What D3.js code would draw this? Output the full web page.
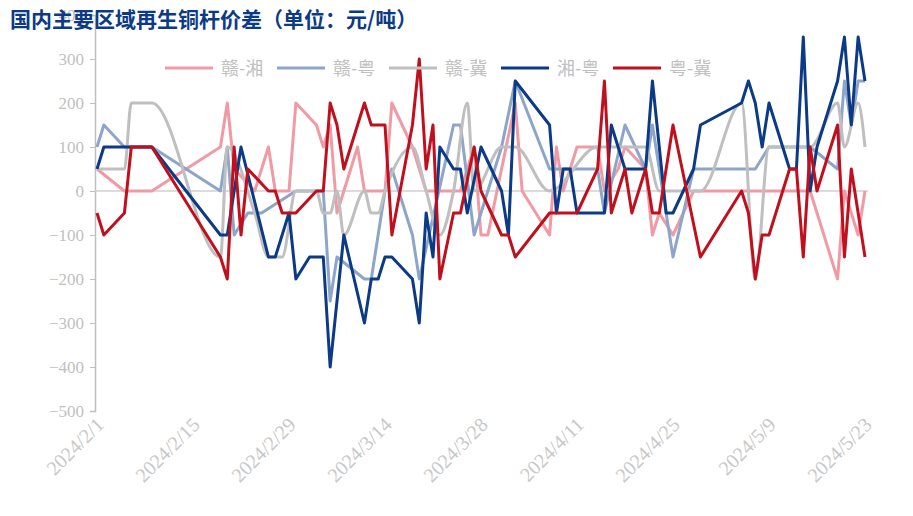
<!DOCTYPE html>
<html>
<head>
<meta charset="utf-8">
<script src="https://cdn.jsdelivr.net/npm/d3@7"></script>
<style>body{margin:0;background:#fff;}</style>
</head>
<body>
<div id="plot"></div>
<script>
// Data, dates are 2024 M/D
const ganXiangDates = ["2/1","2/5","2/9","2/19","2/20","2/21","2/24","2/26","2/27","2/29","3/1","3/4","3/5","3/6","3/7","3/10","3/11","3/14","3/15","3/18","3/20","3/25","3/27","3/28","3/29","4/2","4/3","4/7","4/8","4/9","4/11","4/14","4/15","4/17","4/18","4/21","4/22","4/23","4/25","4/28","5/15","5/19","5/20","5/22","5/23"];
const ganXiangValues = [50,0,0,100,200,50,0,100,0,0,200,150,100,150,-50,100,0,0,200,100,0,0,100,-100,-100,200,0,-100,100,0,100,100,0,50,100,50,-100,-50,-100,0,0,-200,0,-100,0];

const ganYueDates = ["2/1","2/2","2/5","2/9","2/19","2/20","2/21","2/23","2/25","3/1","3/5","3/6","3/7","3/11","3/12","3/14","3/15","3/18","3/19","3/24","3/25","3/27","3/31","4/2","4/7","4/14","4/15","4/18","4/21","4/22","4/25","4/28","5/7","5/9","5/12","5/15","5/19","5/20","5/21","5/22","5/23"];
const ganYueValues = [100,150,100,100,0,100,-100,-50,-50,0,0,-250,-150,-200,-200,0,50,-100,-200,150,150,-100,100,250,50,50,-50,150,50,150,-150,50,50,100,100,100,50,250,150,250,250];

const ganJiDates = ["2/1","2/5","2/6","2/9","2/19","2/20","2/24","2/26","2/28","3/1","3/4","3/5","3/6","3/7","3/8","3/11","3/12","3/13","3/14","3/18","3/20","3/22","3/24","3/26","3/27","3/31","4/2","4/7","4/14","4/16","4/21","4/23","4/29","5/5","5/7","5/9","5/15","5/19","5/20","5/22","5/23"];
const ganJiValues = [50,50,200,200,-150,100,-50,-150,-150,0,0,-50,-50,0,-100,0,-50,-50,0,100,0,-100,0,200,0,100,100,0,100,100,100,0,0,200,-200,100,100,200,100,200,100];

const xiangYueDates = ["2/1","2/2","2/9","2/19","2/20","2/22","2/26","2/27","2/29","3/1","3/3","3/5","3/6","3/8","3/11","3/12","3/13","3/14","3/15","3/18","3/19","3/20","3/21","3/22","3/24","3/25","3/26","3/28","3/31","4/1","4/2","4/7","4/8","4/9","4/10","4/11","4/15","4/16","4/18","4/21","4/22","4/24","4/25","4/28","4/29","5/5","5/6","5/7","5/8","5/9","5/12","5/13","5/14","5/15","5/16","5/19","5/20","5/21","5/22","5/23"];
const xiangYueValues = [50,100,100,-100,-100,100,-150,-150,-50,-200,-150,-150,-400,-100,-300,-200,-200,-150,-150,-200,-300,-50,-150,100,50,50,-50,100,0,-100,250,150,-50,50,50,-50,-50,150,50,50,250,-50,-50,50,150,200,250,200,100,200,50,50,350,0,100,250,350,150,350,250];

const yueJiDates = ["2/1","2/2","2/5","2/6","2/9","2/19","2/20","2/21","2/22","2/23","2/26","2/27","2/28","3/1","3/4","3/5","3/6","3/7","3/8","3/11","3/12","3/14","3/15","3/18","3/19","3/20","3/21","3/22","3/24","3/25","3/27","3/28","3/31","4/1","4/2","4/7","4/11","4/14","4/15","4/16","4/18","4/19","4/21","4/22","4/23","4/25","4/29","5/5","5/6","5/7","5/8","5/9","5/12","5/13","5/14","5/15","5/16","5/19","5/20","5/21","5/23"];
const yueJiValues = [-50,-100,-50,100,100,-150,-200,100,-100,50,0,0,-50,-50,0,0,200,150,50,200,150,150,-100,150,300,50,150,-200,-50,-50,100,0,-100,-100,-150,-50,-50,50,250,-50,50,-50,50,-50,-50,150,-150,0,-50,-200,-100,-100,50,50,-150,100,0,150,-150,50,-150];

const seriesNames = ["赣-湘", "赣-粤", "赣-冀", "湘-粤", "粤-冀"];
const seriesColors = ["#ef9aa5", "#8da5c9", "#bfbfbf", "#0b3a86", "#c0101e"];
const yTicks = [-500, -400, -300, -200, -100, 0, 100, 200, 300, 400];
const xTickLabels = ["2024/2/1","2024/2/15","2024/2/29","2024/3/14","2024/3/28","2024/4/11","2024/4/25","2024/5/9","2024/5/23"];

const width = 913, height = 516;
const parse = s => { const [m, d] = s.split("/").map(Number); return new Date(2024, m - 1, d); };

const series = [
  [ganXiangDates, ganXiangValues],
  [ganYueDates, ganYueValues],
  [ganJiDates, ganJiValues],
  [xiangYueDates, xiangYueValues],
  [yueJiDates, yueJiValues]
].map(([ds, vs], i) => ({
  name: seriesNames[i], color: seriesColors[i],
  points: ds.map((d, j) => ({ date: parse(d), value: vs[j] }))
}));

const svg = d3.select('#plot').append('svg')
  .attr('width', width).attr('height', height);

const x = d3.scaleTime()
  .domain([new Date(2024, 1, 1), new Date(2024, 4, 23)])
  .range([97, 865]);
const y = d3.scaleLinear().domain([-500, 400]).range([411, 15]);

const serif = '"Liberation Serif", "Times New Roman", serif';

// y axis
const yAxis = svg.append('g')
  .attr('transform', 'translate(95,0)')
  .call(d3.axisLeft(y).tickValues(yTicks).tickSize(5).tickPadding(6));
yAxis.select('.domain').attr('stroke', '#bfbfbf').attr('stroke-width', 1.5);
yAxis.selectAll('line').attr('stroke', '#bfbfbf');
yAxis.selectAll('text').attr('fill', '#bfbfbf').style('font-size', '17px').style('font-family', serif);

// zero line
svg.append('line')
  .attr('x1', 95).attr('x2', 868)
  .attr('y1', y(0)).attr('y2', y(0))
  .attr('stroke', '#d0d0d0').attr('stroke-width', 1.5);

// x labels
svg.append('g').selectAll('text')
  .data(xTickLabels)
  .join('text')
  .attr('transform', d => {
    const p = d.split("/");
    return `translate(${x(new Date(2024, p[1] - 1, +p[2])) + 8},${426}) rotate(-45)`;
  })
  .attr('text-anchor', 'end')
  .attr('fill', '#c8c8c8')
  .style('font-size', '20px')
  .style('font-family', serif)
  .text(d => d);

// lines
const lineGen = d3.line().x(d => x(d.date)).y(d => y(d.value));
svg.append('g').selectAll('path')
  .data(series)
  .join('path')
  .attr('fill', 'none')
  .attr('stroke', d => d.color)
  .attr('stroke-width', 3)
  .attr('stroke-linejoin', 'round')
  .attr('d', d => lineGen.curve(d.name === "赣-冀" ? d3.curveMonotoneX : d3.curveLinear)(d.points));

// title (sits over the top tick label, as in the original)
svg.append('rect')
  .attr('x', 8).attr('y', 6).attr('width', 50).attr('height', 26)
  .attr('fill', '#fff').attr('fill-opacity', 0.6);
svg.append('text')
  .attr('x', 10).attr('y', 27)
  .attr('fill', '#0b3a86')
  .style('font-size', '21px')
  .style('font-weight', 'bold')
  .style('font-family', '"Noto Sans CJK SC", sans-serif')
  .text('国内主要区域再生铜杆价差（单位：元/吨）');

// legend
const legend = svg.append('g').attr('transform', 'translate(165,68)');
const item = legend.selectAll('g')
  .data(series)
  .join('g')
  .attr('transform', (d, i) => `translate(${i * 112},0)`);
item.append('line')
  .attr('x1', 0).attr('x2', 48)
  .attr('stroke', d => d.color).attr('stroke-width', 3);
item.append('text')
  .attr('x', 56).attr('y', 7)
  .attr('fill', '#c0c0c0')
  .style('font-size', '18px')
  .style('font-family', '"Noto Sans CJK SC", serif')
  .text(d => d.name);
</script>
</body>
</html>
